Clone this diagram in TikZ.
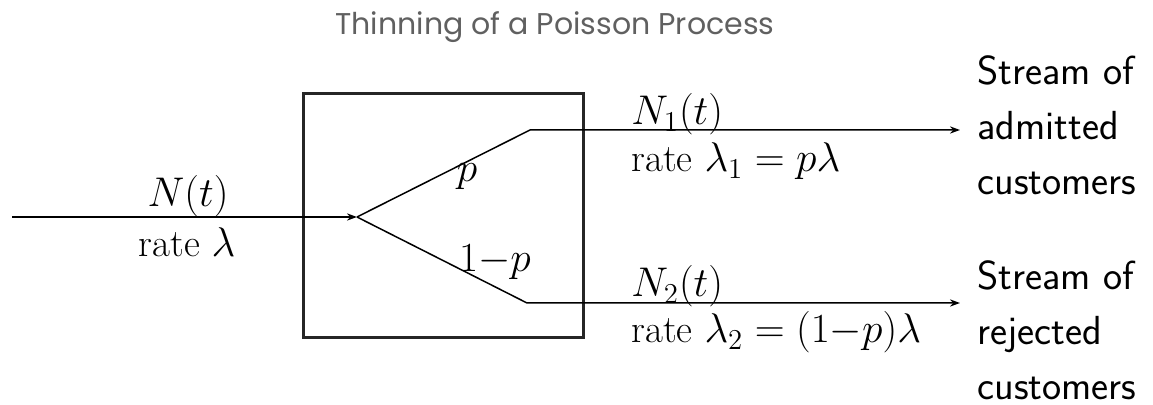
\documentclass[tikz,border=0pt]{standalone}
\usepackage{fontspec}
\newfontfamily\titlefont{Poppins}
\usetikzlibrary{arrows.meta}
\definecolor{titlegray}{HTML}{606060}
\begin{document}
\begin{tikzpicture}[x=0.5pt,y=-0.5pt,
  flow/.style={line width=0.75pt,black},
  arr/.style={flow,-{Stealth[length=5pt,width=3.6pt]}},
  boxline/.style={line width=1.5pt,black!85},
  mathlbl/.style={inner sep=0pt,font=\fontsize{19.5}{23}\selectfont},
  stream/.style={inner sep=0pt,align=left,font=\sffamily\fontsize{20.3}{27.5}\selectfont},
  ttl/.style={inner sep=0pt,text=titlegray,font=\titlefont\fontsize{15}{18}\selectfont}]
\useasboundingbox (0,0) rectangle (1153,405);
\node[ttl,anchor=base] (title) at (555,35) {Thinning of a Poisson Process};
\draw[boxline] (303,94) rectangle (583,338);
\coordinate (in) at (12,217);
\coordinate (split) at (357,217);
\coordinate (k1) at (530,130);
\coordinate (k2) at (527,303);
\coordinate (e1) at (960,130);
\coordinate (e2) at (960,303);
\draw[arr] (in) -- (split);
\draw[arr] (split) -- (k1) -- (e1);
\draw[arr] (split) -- (k2) -- (e2);
\node[mathlbl,anchor=base] (nt) at (188,207) {$N(t)$};
\node[mathlbl,anchor=base] (rt) at (187,257) {rate $\lambda$};
\node[mathlbl] (p) at (467,177) {$p$};
\node[mathlbl] (q) at (495,262) {$1{-}p$};
\node[mathlbl,anchor=base west] (n1) at (631,125) {$N_1(t)$};
\node[mathlbl,anchor=base west] (r1) at (631,172) {rate $\lambda_1=p\lambda$};
\node[mathlbl,anchor=base west] (n2) at (631,297) {$N_2(t)$};
\node[mathlbl,anchor=base west] (r2) at (631,343) {rate $\lambda_2=(1{-}p)\lambda$};
\node[stream,anchor=base west] (s1) at (977,195) {Stream of\\admitted\\customers};
\node[stream,anchor=base west] (s2) at (977,400) {Stream of\\rejected\\customers};
\end{tikzpicture}
\end{document}
